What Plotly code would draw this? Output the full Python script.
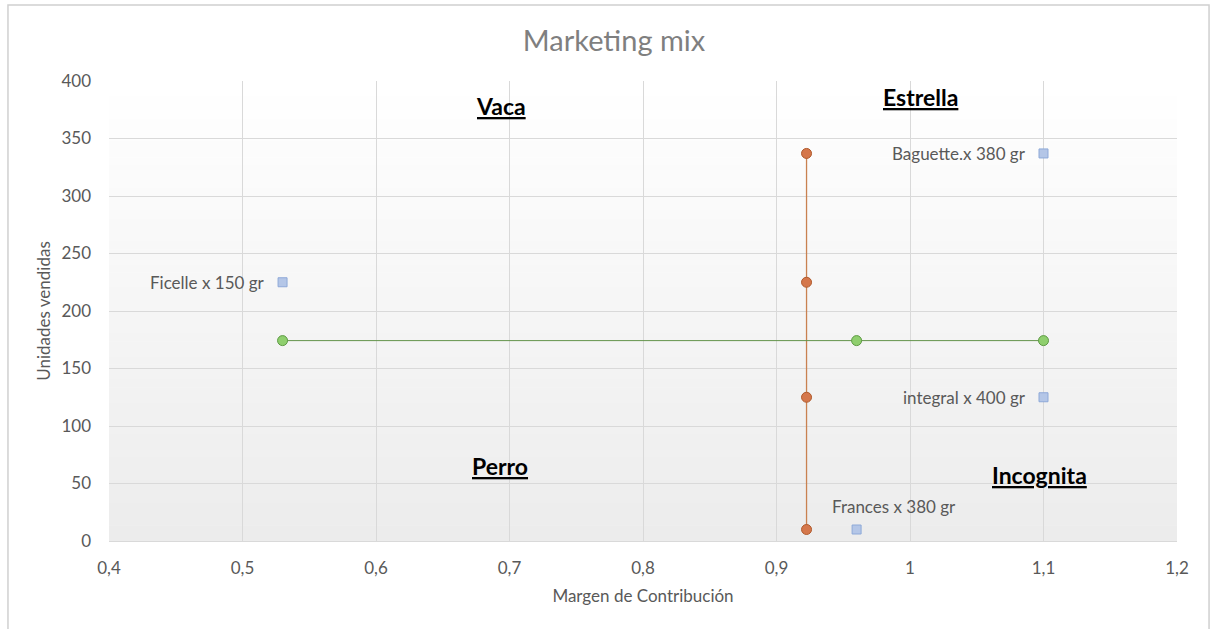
import plotly.graph_objects as go

# Products: contribution margin vs. units sold
product_names = ["Baguette.x 380 gr", "Ficelle x 150 gr", "integral x 400 gr", "Frances x 380 gr"]
product_margin = [1.1, 0.53, 1.1, 0.96]
product_units = [337, 225, 125, 10]

# Vertical divider (average margin)
vline_margin = [0.9225, 0.9225, 0.9225, 0.9225]
vline_units = [337, 225, 125, 10]

# Horizontal divider (average units)
hline_margin = [0.53, 0.96, 1.1]
hline_units = [174.25, 174.25, 174.25]

# Quadrant names
quad_names = ["Vaca", "Estrella", "Perro", "Incognita"]
quad_x = [0.694, 1.008, 0.693, 1.097]
quad_y = [378, 386, 65, 57]

FONT = "Lato"
GRAY = "#595959"
BASE = 17

fig = go.Figure()

# Smooth white-to-gray fill behind the plotting area
n_steps = 60
for i in range(n_steps):
    t = i / (n_steps - 1)
    g = int(round(255 - (255 - 236) * t))
    fig.add_shape(
        type="rect", xref="paper", yref="paper",
        x0=0, x1=1, y0=1 - (i + 1) / n_steps, y1=1 - i / n_steps + 0.001,
        fillcolor=f"rgb({g},{g},{g})", line_width=0, layer="below",
    )

fig.add_trace(go.Scatter(
    x=vline_margin, y=vline_units, mode="lines+markers",
    line=dict(color="#c98150", width=1.3),
    marker=dict(size=10, color="#d5774b", line=dict(color="#b05a2c", width=1)),
    hoverinfo="x+y", showlegend=False,
))
fig.add_trace(go.Scatter(
    x=hline_margin, y=hline_units, mode="lines+markers",
    line=dict(color="#62934a", width=1),
    marker=dict(size=10, color="#8fcf6e", line=dict(color="#5e9a45", width=1)),
    hoverinfo="x+y", showlegend=False,
))
fig.add_trace(go.Scatter(
    x=product_margin, y=product_units, mode="markers",
    text=product_names,
    marker=dict(symbol="square", size=9, color="#b4c6e7", line=dict(color="#8ea9d8", width=1)),
    hoverinfo="x+y+text", showlegend=False,
))

# Data labels next to each product point
for name, x, y in zip(product_names, product_margin, product_units):
    if name.startswith("Frances"):
        fig.add_annotation(x=x, y=y, text=name, showarrow=False,
                           xanchor="center", yanchor="middle", xshift=37, yshift=23,
                           font=dict(family=FONT, size=BASE, color=GRAY))
    else:
        fig.add_annotation(x=x, y=y, text=name, showarrow=False,
                           xanchor="right", yanchor="middle", xshift=-16,
                           font=dict(family=FONT, size=BASE, color=GRAY))

for name, x, y in zip(quad_names, quad_x, quad_y):
    fig.add_annotation(
        x=x, y=y, text=f"<b><u>{name}</u></b>", showarrow=False,
        font=dict(family=FONT, size=23, color="#000000"),
    )

# Outer chart frame
fig.add_shape(
    type="rect", xref="paper", yref="paper",
    x0=-0.0946, x1=1.030, y0=-0.25, y1=1.165,
    line=dict(color="#d0d0d0", width=1.5), fillcolor="rgba(0,0,0,0)", layer="below",
)

fig.update_layout(
    width=1211, height=629,
    margin=dict(l=109, r=34, t=81, b=88),
    paper_bgcolor="white",
    plot_bgcolor="rgba(0,0,0,0)",
    separators=",.",
    title=dict(
        text="Marketing mix", x=614 / 1211, xanchor="center", xref="container",
        y=1 - 41 / 629, yanchor="middle",
        font=dict(family=FONT, size=29, color="#7f7f7f"),
    ),
    font=dict(family=FONT, color=GRAY),
    xaxis=dict(
        range=[0.4, 1.2], dtick=0.1, tick0=0.4,
        showgrid=True, gridcolor="#d9d9d9", gridwidth=1,
        zeroline=False, showline=True, linecolor="#d9d9d9",
        ticks="", tickfont=dict(family=FONT, size=BASE, color=GRAY),
        ticklabelstandoff=12,
        title=dict(text="Margen de Contribución", font=dict(family=FONT, size=BASE, color=GRAY), standoff=12),
    ),
    yaxis=dict(
        range=[0, 400], dtick=50,
        showgrid=True, gridcolor="#d9d9d9", gridwidth=1,
        zeroline=False, showline=False,
        ticks="", tickfont=dict(family=FONT, size=BASE, color=GRAY),
        ticklabelstandoff=17,
        title=dict(text="Unidades vendidas", font=dict(family=FONT, size=BASE, color=GRAY), standoff=6),
    ),
)

fig.write_html("out.html")
